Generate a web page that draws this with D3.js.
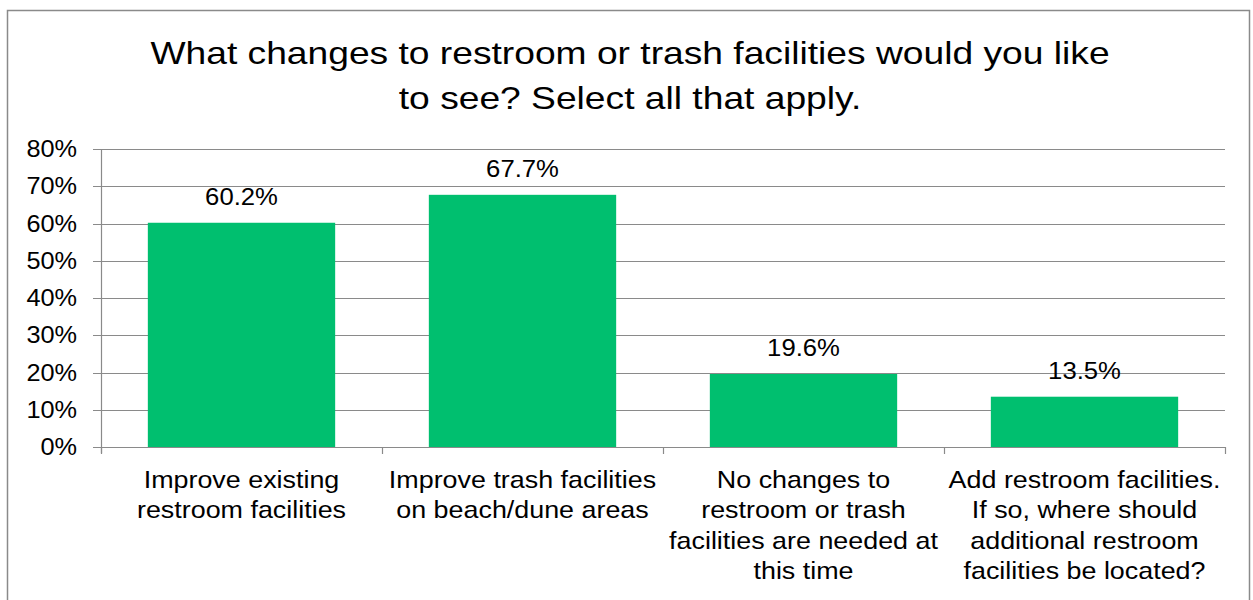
<!DOCTYPE html>
<html>
<head>
<meta charset="utf-8">
<script src="https://cdn.jsdelivr.net/npm/d3@7"></script>
<style>
  body { margin: 0; background: #fff; }
  text { font-family: "Liberation Sans", Arial, sans-serif; fill: #000; }
</style>
</head>
<body>
<div id="chart"></div>
<script>
// chart data
var categories = [
  ["Improve existing", "restroom facilities"],
  ["Improve trash facilities", "on beach/dune areas"],
  ["No changes to", "restroom or trash", "facilities are needed at", "this time"],
  ["Add restroom facilities.", "If so, where should", "additional restroom", "facilities be located?"]
];
var values = [60.2, 67.7, 19.6, 13.5];
var yTicks = [0, 10, 20, 30, 40, 50, 60, 70, 80];
var titleLines = ["What changes to restroom or trash facilities would you like", "to see? Select all that apply."];

var width = 1253, height = 600;
var plotLeft = 101, plotRight = 1225, plotTop = 149, plotBottom = 447;
var grey = "#8a8a8a";

// the source image is a bit wider than tall, so text is stretched sideways
function place(xp, yp, sx) {
  return "translate(" + xp + "," + yp + ") scale(" + sx + ",1)";
}

var svg = d3.select("#chart").append("svg")
  .attr("width", width)
  .attr("height", height);

// outer border
svg.append("rect")
  .attr("x", 7.5).attr("y", 10.5)
  .attr("width", 1242).attr("height", 620)
  .attr("fill", "none")
  .attr("stroke", grey)
  .attr("stroke-width", 1.5);

// title
svg.append("g").selectAll("text")
  .data(titleLines)
  .enter()
  .append("text")
  .attr("transform", function(d, i) { return place(630, 64 + i * 45, 1.2); })
  .attr("text-anchor", "middle")
  .style("font-size", "31px")
  .text(function(d) { return d; });

var x = d3.scaleBand()
  .domain(d3.range(categories.length))
  .range([plotLeft, plotRight])
  .paddingInner(1 / 3)
  .paddingOuter(1 / 6);

var y = d3.scaleLinear()
  .domain([0, 80])
  .range([plotBottom, plotTop]);

// gridlines
svg.append("g").selectAll("line")
  .data(yTicks)
  .enter()
  .append("line")
  .attr("x1", plotLeft - 8).attr("x2", plotRight)
  .attr("y1", function(d) { return Math.round(y(d)) + 0.5; })
  .attr("y2", function(d) { return Math.round(y(d)) + 0.5; })
  .attr("stroke", grey)
  .attr("stroke-width", 1.2);

// y axis line
svg.append("line")
  .attr("x1", plotLeft + 0.5).attr("x2", plotLeft + 0.5)
  .attr("y1", plotTop).attr("y2", plotBottom + 6)
  .attr("stroke", grey)
  .attr("stroke-width", 1.2);

// y tick labels
svg.append("g").selectAll("text")
  .data(yTicks)
  .enter()
  .append("text")
  .attr("transform", function(d) { return place(77, y(d) + 8, 1.1); })
  .attr("text-anchor", "end")
  .style("font-size", "23px")
  .text(function(d) { return d + "%"; });

// x tick marks at category boundaries
var step = x.step();
svg.append("g").selectAll("line")
  .data(d3.range(categories.length + 1))
  .enter()
  .append("line")
  .attr("x1", function(d) { return Math.round(plotLeft + d * step) + 0.5; })
  .attr("x2", function(d) { return Math.round(plotLeft + d * step) + 0.5; })
  .attr("y1", plotBottom).attr("y2", plotBottom + 7)
  .attr("stroke", grey)
  .attr("stroke-width", 1.2);

// bars
svg.append("g").selectAll("rect")
  .data(values)
  .enter()
  .append("rect")
  .attr("x", function(d, i) { return x(i); })
  .attr("y", function(d) { return y(d); })
  .attr("width", x.bandwidth())
  .attr("height", function(d) { return plotBottom - y(d); })
  .attr("fill", "#00bf6f");

// redraw baseline on top of bars
svg.append("line")
  .attr("x1", plotLeft - 8).attr("x2", plotRight)
  .attr("y1", plotBottom + 0.5).attr("y2", plotBottom + 0.5)
  .attr("stroke", grey)
  .attr("stroke-width", 1.2);

// value labels
svg.append("g").selectAll("text")
  .data(values)
  .enter()
  .append("text")
  .attr("transform", function(d, i) { return place(x(i) + x.bandwidth() / 2, y(d) - 18, 1.07); })
  .attr("text-anchor", "middle")
  .style("font-size", "24px")
  .text(function(d) { return d.toFixed(1) + "%"; });

// category labels
var catG = svg.append("g").selectAll("text")
  .data(categories)
  .enter()
  .append("text")
  .attr("transform", function(d, i) { return place(x(i) + x.bandwidth() / 2, 488, 1.12); })
  .attr("text-anchor", "middle")
  .style("font-size", "24px");

catG.selectAll("tspan")
  .data(function(d) { return d; })
  .enter()
  .append("tspan")
  .attr("x", 0)
  .attr("y", function(d, j) { return j * 30.5; })
  .text(function(d) { return d; });
</script>
</body>
</html>
